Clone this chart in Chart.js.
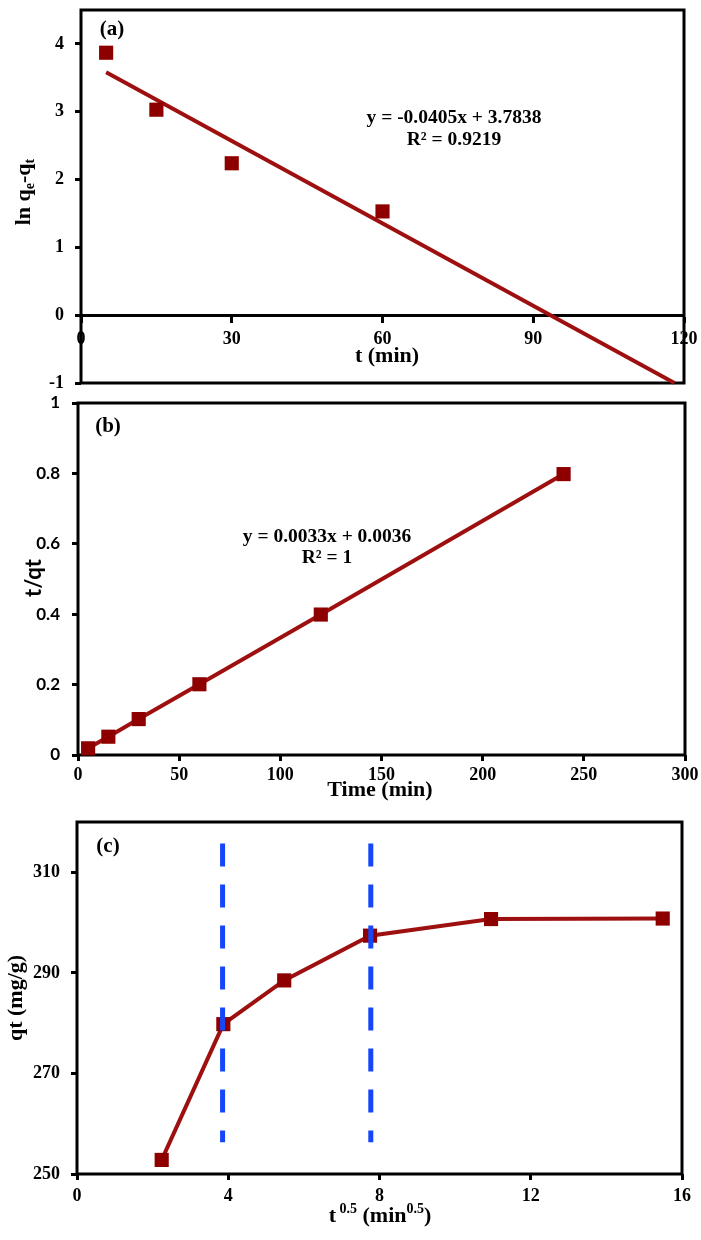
<!DOCTYPE html>
<html><head><meta charset="utf-8">
<script src="https://cdn.jsdelivr.net/npm/chart.js@4"></script>
<style>
html,body{margin:0;padding:0;background:#fff;}
#wrap{position:relative;width:701px;height:1240px;background:#fff;}
canvas{position:absolute;left:0;top:0;}
</style></head><body>
<div id="wrap">
<canvas id="ca" width="701" height="1240"></canvas>
<canvas id="cb" width="701" height="1240"></canvas>
<canvas id="cc" width="701" height="1240"></canvas>
</div>
<script>
// ---------- DATA ----------
// (a) pseudo-first-order
const timeA = [5, 15, 30, 60];
const lnQeQtA = [3.87, 3.03, 2.24, 1.53];
const fitSlopeA = -0.0405;
const fitInterceptA = 3.7838;
const fitRangeA = [5, 118.1];
const xTicksA = [0, 30, 60, 90, 120];
const yTicksA = [-1, 0, 1, 2, 3, 4];

// (b) pseudo-second-order
const timeB = [5, 15, 30, 60, 120, 240];
const tOverQtB = [0.019, 0.052, 0.102, 0.201, 0.399, 0.798];
const xTicksB = [0, 50, 100, 150, 200, 250, 300];
const yTicksB = [0, 0.2, 0.4, 0.6, 0.8, 1];

// (c) intraparticle diffusion
const sqrtTimeC = [2.24, 3.87, 5.48, 7.75, 10.95, 15.49];
const qtC = [252.8, 279.8, 288.5, 297.4, 300.7, 300.8];
const dividerXC = [3.85, 7.77];
const dividerYC = [315.7, 256.3];
const xTicksC = [0, 4, 8, 12, 16];
const yTicksC = [250, 270, 290, 310];

// ---------- STYLE ----------
const SERIF = "'Liberation Serif', 'Times New Roman', serif";
const SANS = "Lato, 'Liberation Sans', sans-serif";
const MARK = '#8E0000';
const LINE = '#9E1010';
const BLUE = '#1646FA';

function axis(o) {
  return {
    type: 'linear', min: o.min, max: o.max, position: o.position,
    afterBuildTicks: s => { s.ticks = o.ticks.map(v => ({value: v})); },
    afterFit: s => {
      if (o.width != null) s.width = o.width;
      if (o.height != null) s.height = o.height;
      s.paddingTop = 0; s.paddingBottom = 0; s.paddingLeft = 0; s.paddingRight = 0;
    },
    grid: {drawOnChartArea: false, drawTicks: true, tickLength: 6, tickWidth: 3, tickColor: '#000'},
    border: {display: !!o.border, width: 3, color: '#000'},
    ticks: {autoSkip: false, maxRotation: 0, minRotation: 0, padding: o.pad, color: '#000',
      font: {family: o.family || SERIF, size: o.size || 18, weight: 'bold'},
      callback: v => String(v)}
  };
}

const framePlugin = {
  id: 'frame',
  beforeDatasetsDraw(chart) {
    const {ctx, chartArea: a} = chart;
    ctx.save(); ctx.lineWidth = 3; ctx.strokeStyle = '#000';
    ctx.strokeRect(a.left, a.top, a.right - a.left, a.bottom - a.top);
    ctx.restore();
  }
};

function richPlugin(items) {
  return {
    id: 'richText',
    afterDraw(chart) {
      const ctx = chart.ctx;
      items.forEach(it => {
        let total = 0;
        const ws = it.segs.map(s => {
          ctx.font = `bold ${s.size}px ${s.family || SERIF}`;
          const w = ctx.measureText(s.text).width; total += w; return w;
        });
        ctx.save();
        ctx.translate(it.x, it.y);
        if (it.rot) ctx.rotate(it.rot);
        ctx.textBaseline = 'middle'; ctx.textAlign = 'left'; ctx.fillStyle = '#000';
        let x = -total / 2;
        it.segs.forEach((s, i) => {
          ctx.font = `bold ${s.size}px ${s.family || SERIF}`;
          ctx.fillText(s.text, x, s.dy || 0);
          x += ws[i];
        });
        ctx.restore();
      });
    }
  };
}

function pts(xs, ys) { return xs.map((x, i) => ({x, y: ys[i]})); }

const common = {
  responsive: false, animation: false, devicePixelRatio: 1,
  plugins: {legend: {display: false}, tooltip: {enabled: false}}
};

// ---------- (a) ----------
new Chart(document.getElementById('ca'), {
  type: 'scatter',
  data: {datasets: [
    {data: pts(timeA, lnQeQtA), pointStyle: 'rect', pointRadius: 10, pointBackgroundColor: MARK,
     pointBorderWidth: 0, showLine: false, clip: false, order: 0},
    {data: fitRangeA.map(x => ({x, y: fitSlopeA * x + fitInterceptA})), showLine: true,
     borderColor: LINE, borderWidth: 4, pointRadius: 0, clip: false, order: 1}
  ]},
  options: Object.assign({}, common, {
    layout: {padding: {top: 3, left: 0, right: 17, bottom: 857}},
    scales: {
      x: axis({min: 0, max: 120, ticks: xTicksA, position: {y: 0}, border: true, pad: 7}),
      y: axis({min: -1, max: 4.5, ticks: yTicksA, position: 'left', width: 81, pad: 11})
    }
  }),
  plugins: [framePlugin, richPlugin([
    {x: 24, y: 192, rot: -Math.PI / 2, segs: [
      {text: 'ln q', size: 22}, {text: 'e', size: 14, dy: 6}, {text: '-q', size: 22}, {text: 't', size: 14, dy: 6}]},
    {x: 387, y: 356, segs: [{text: 't (min)', size: 22}]},
    {x: 112, y: 30, segs: [{text: '(a)', size: 21}]},
    {x: 454, y: 118, segs: [{text: 'y = -0.0405x + 3.7838', size: 19.5}]},
    {x: 454, y: 140, segs: [{text: 'R² = 0.9219', size: 19.5}]}
  ])]
});

// ---------- (b) ----------
new Chart(document.getElementById('cb'), {
  type: 'scatter',
  data: {datasets: [
    {data: pts(timeB, tOverQtB), pointStyle: 'rect', pointRadius: 10, pointBackgroundColor: MARK,
     pointBorderWidth: 0, showLine: true, borderColor: LINE, borderWidth: 4, clip: false}
  ]},
  options: Object.assign({}, common, {
    layout: {padding: {top: 403, left: 0, right: 16, bottom: 455}},
    scales: {
      x: axis({min: 0, max: 300, ticks: xTicksB, position: 'bottom', height: 30, pad: 4}),
      y: axis({min: 0, max: 1, ticks: yTicksB, position: 'left', width: 78, pad: 12, family: SANS, size: 17})
    }
  }),
  plugins: [framePlugin, richPlugin([
    {x: 34, y: 578, rot: -Math.PI / 2, segs: [{text: 't/qt', size: 22, family: SANS}]},
    {x: 380, y: 790, segs: [{text: 'Time (min)', size: 22}]},
    {x: 108, y: 427, segs: [{text: '(b)', size: 21}]},
    {x: 327, y: 537, segs: [{text: 'y = 0.0033x + 0.0036', size: 19.5}]},
    {x: 327, y: 558, segs: [{text: 'R² = 1', size: 19.5}]}
  ])]
});

// ---------- (c) ----------
new Chart(document.getElementById('cc'), {
  type: 'scatter',
  data: {datasets: [
    {data: pts(sqrtTimeC, qtC), pointStyle: 'rect', pointRadius: 10, pointBackgroundColor: MARK,
     pointBorderWidth: 0, showLine: true, borderColor: LINE, borderWidth: 4, clip: false, order: 1},
    ...dividerXC.map(x => ({data: dividerYC.map(y => ({x, y})), showLine: true, borderColor: BLUE,
      borderWidth: 5, borderDash: [23, 18], pointRadius: 0, clip: false, order: 0}))
  ]},
  options: Object.assign({}, common, {
    layout: {padding: {top: 822, left: 0, right: 19, bottom: 36}},
    scales: {
      x: axis({min: 0, max: 16, ticks: xTicksC, position: 'bottom', height: 30, pad: 6}),
      y: axis({min: 250, max: 320, ticks: yTicksC, position: 'left', width: 77, pad: 11})
    }
  }),
  plugins: [framePlugin, richPlugin([
    {x: 16, y: 998, rot: -Math.PI / 2, segs: [{text: 'qt (mg/g)', size: 22}]},
    {x: 380, y: 1216, segs: [
      {text: 't', size: 22}, {text: ' 0.5', size: 14, dy: -7}, {text: ' (min', size: 22},
      {text: '0.5', size: 14, dy: -7}, {text: ')', size: 22}]},
    {x: 108, y: 847, segs: [{text: '(c)', size: 21}]}
  ])]
});
</script>
</body></html>
